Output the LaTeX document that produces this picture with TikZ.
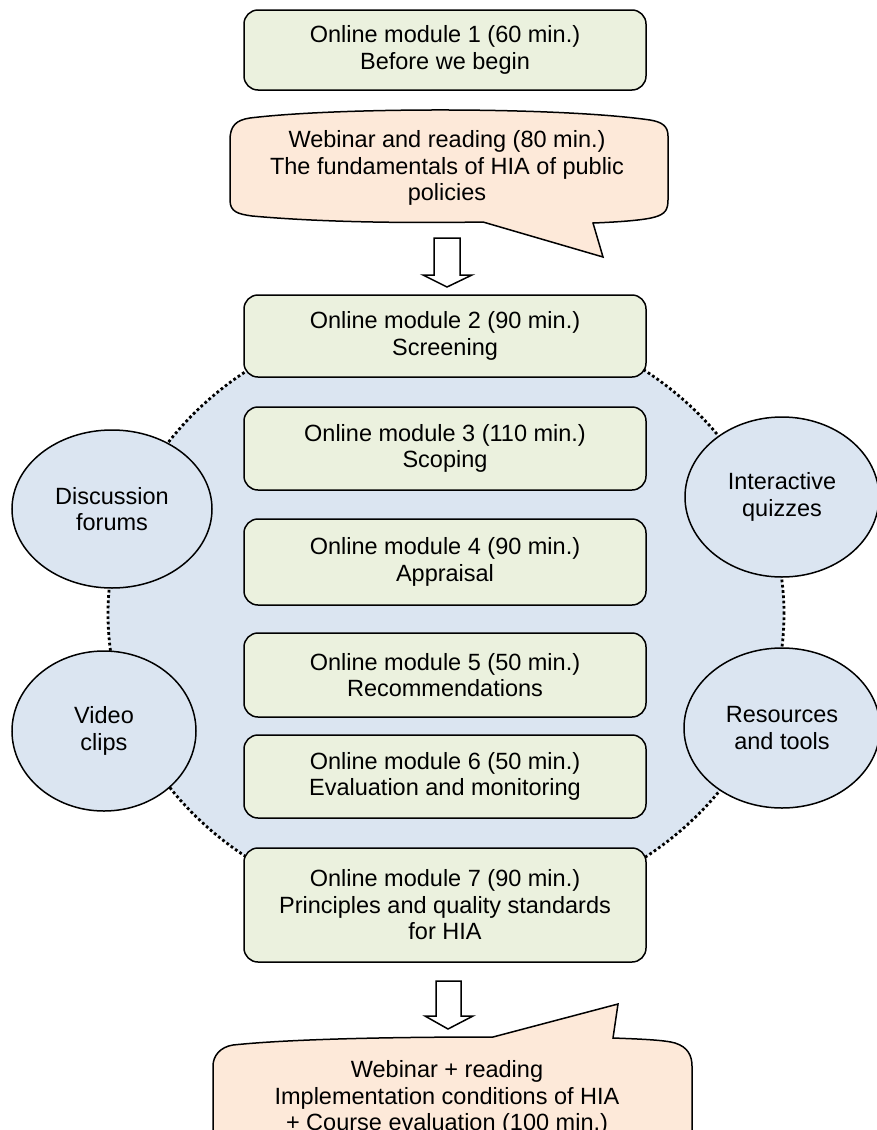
\documentclass[tikz,border=0pt]{standalone}
\usepackage{fontspec}
\setmainfont{Liberation Sans}
\usetikzlibrary{shapes.geometric}
\definecolor{modfill}{HTML}{EBF1DE}
\definecolor{bluefill}{HTML}{DBE5F1}
\definecolor{peach}{HTML}{FDE9D9}
\begin{document}
\begin{tikzpicture}[x=1pt,y=-1pt,
  txt/.style={align=center, font=\fontsize{23.5}{26.5}\selectfont},
  modbox/.style={txt, draw, line width=1.5pt, fill=modfill, rounded corners=14pt,
    minimum width=402pt, inner sep=0pt},
  tool/.style={txt, ellipse, draw, line width=1.5pt, fill=bluefill, inner sep=0pt},
  bigring/.style={ellipse, fill=bluefill, draw, line width=2.8pt, dash pattern=on 2.7pt off 2.6pt, inner sep=0pt},
  callout/.style={draw, line width=1.5pt, fill=peach},
  blockarrow/.style={draw, line width=1.5pt, fill=white, line join=miter}
]
\path[use as bounding box] (0,0) rectangle (877,1130);
\clip (0,0) rectangle (877,1130);
\fill[white] (0,0) rectangle (877,1130);

% big dotted area
\node[bigring, minimum width=676pt, minimum height=602pt] (ring) at (446,614) {};

% tool ellipses
\node[tool, minimum width=200pt, minimum height=158pt] (disc) at (112,509) {Discussion\\forums};
\node[tool, minimum width=184pt, minimum height=160pt] (video) at (104,731) {Video\\clips};
\node[tool, minimum width=194pt, minimum height=160pt] (quiz) at (782,497) {Interactive\\quizzes};
\node[tool, minimum width=196pt, minimum height=160pt] (res) at (782,728) {Resources\\and tools};

% modules
\node[modbox, minimum height=80pt] (m1) at (445,50) {Online module 1 (60 min.)\\Before we begin};
\node[modbox, minimum height=82pt] (m2) at (445,336) {Online module 2 (90 min.)\\Screening};
\node[modbox, minimum height=83pt] (m3) at (445,448.5) {Online module 3 (110 min.)\\Scoping};
\node[modbox, minimum height=86pt] (m4) at (445,562) {Online module 4 (90 min.)\\Appraisal};
\node[modbox, minimum height=84pt] (m5) at (445,675) {Online module 5 (50 min.)\\Recommendations};
\node[modbox, minimum height=83pt] (m6) at (445,776.5) {Online module 6 (50 min.)\\Evaluation and monitoring};
\node[modbox, minimum height=114pt] (m7) at (445,905) {Online module 7 (90 min.)\\Principles and quality standards\\for HIA};

% callout 1
\draw[callout] (230,140) -- (230,200)
  .. controls (230,212) and (238,214) .. (252,216)
  .. controls (330,223) and (420,223) .. (483,222)
  -- (603,257) -- (593,223)
  .. controls (620,222) and (645,220) .. (655,217)
  .. controls (665,214) and (668,210) .. (668,200)
  -- (668,136)
  .. controls (668,126) and (662,122) .. (650,120)
  .. controls (560,107) and (340,107) .. (250,118)
  .. controls (236,120) and (230,126) .. (230,140) -- cycle;
\node[txt] (c1) at (447,168) {Webinar and reading (80 min.)\\The fundamentals of HIA of public\\policies};

% callout 2
\draw[callout] (213,1145) -- (213,1066)
  .. controls (213,1056) and (220,1047) .. (233,1045)
  .. controls (300,1038) and (420,1037) .. (493,1037)
  -- (618,1004) -- (613,1038)
  .. controls (640,1039) and (665,1040) .. (675,1043)
  .. controls (688,1047) and (692,1056) .. (692,1066)
  -- (692,1145) -- cycle;
\node[txt] (c2) at (447,1098) {Webinar + reading\\Implementation conditions of HIA\\+ Course evaluation (100 min.)};

% block arrows
\coordinate (a1) at (447,238);
\draw[blockarrow] (a1) ++(-13,0) -- ++(26,0) -- ++(0,37) -- ++(12,0) -- ++(-25,12) -- ++(-24,-12) -- ++(11,0) -- cycle;
\coordinate (a2) at (448,981);
\draw[blockarrow] (a2) ++(-12,0) -- ++(25,0) -- ++(0,35) -- ++(12,0) -- ++(-25,13) -- ++(-23,-13) -- ++(11,0) -- cycle;
\end{tikzpicture}
\end{document}
